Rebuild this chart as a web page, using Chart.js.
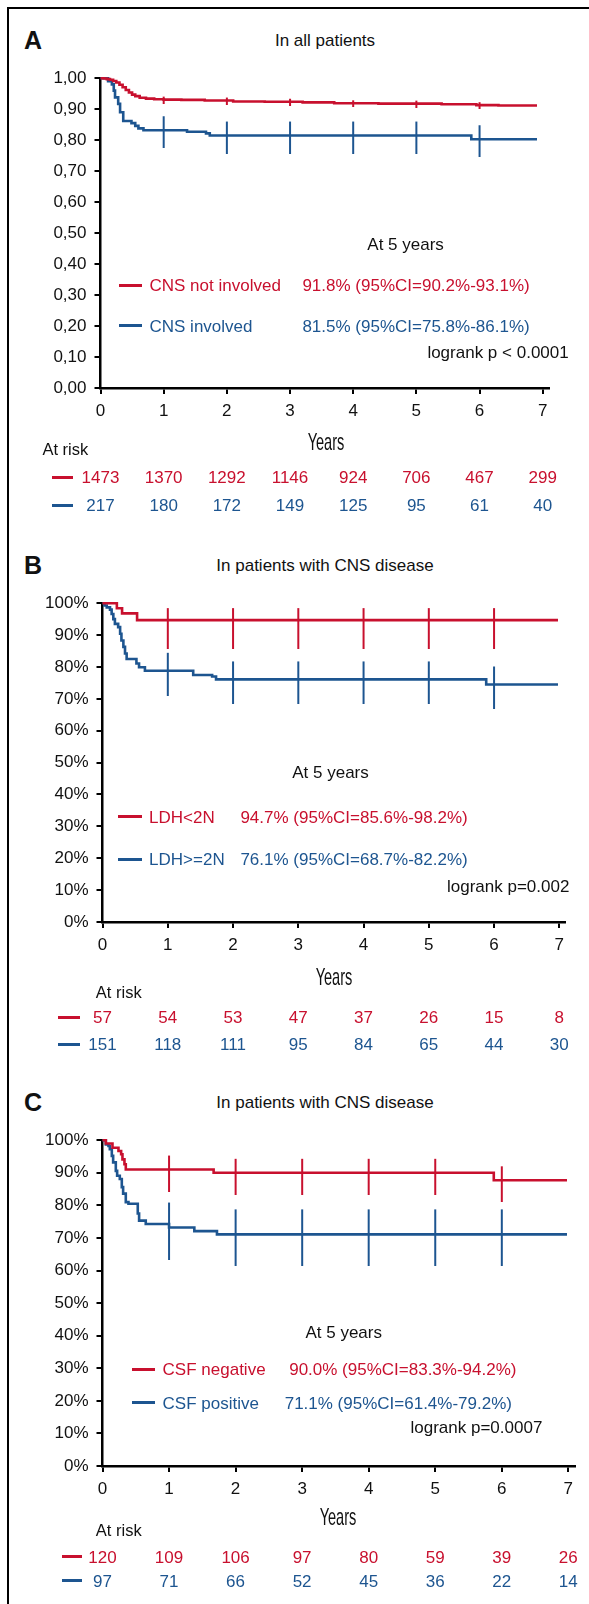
<!DOCTYPE html>
<html>
<head>
<meta charset="utf-8">
<script src="https://cdn.jsdelivr.net/npm/chart.js@4.4.1/dist/chart.umd.min.js"></script>
<style>
html, body { margin: 0; padding: 0; background: #fff; }
#page { position: relative; width: 589px; height: 1604px; overflow: hidden; font-family: "Liberation Sans", Arial, sans-serif; color: #111; }
#frame { position: absolute; left: 7px; top: 7px; width: 700px; height: 1700px; border-left: 2.5px solid #000; border-top: 2.5px solid #000; }
.t { position: absolute; white-space: nowrap; line-height: 1; font-size: 17px; }
canvas { position: absolute; left: 0; }
</style>
</head>
<body>
<div id="page"><div id="frame"></div></div>
<script>
// ---- data ----
var years = [0, 1, 2, 3, 4, 5, 6, 7];
var censorYears = [1, 2, 3, 4, 5, 6];

// A: all patients
var aRedT = [0, 0.05, 0.1, 0.15, 0.2, 0.25, 0.3, 0.35, 0.4, 0.45, 0.5, 0.55, 0.62, 0.72, 0.85, 1.0, 1.28, 1.65, 2.1, 2.6, 3.2, 3.7, 4.4, 5.4, 5.95, 6.3, 6.91];
var aRedS = [1.0, 0.999, 0.997, 0.995, 0.991, 0.986, 0.979, 0.971, 0.962, 0.954, 0.947, 0.942, 0.937, 0.934, 0.932, 0.931, 0.930, 0.928, 0.925, 0.924, 0.922, 0.919, 0.918, 0.916, 0.913, 0.912, 0.912];
var aBlueT = [0, 0.12, 0.18, 0.21, 0.23, 0.28, 0.31, 0.36, 0.49, 0.55, 0.6, 0.68, 1.37, 1.67, 1.73, 5.87, 6.91];
var aBlueS = [1.0, 0.99, 0.98, 0.96, 0.938, 0.917, 0.89, 0.862, 0.855, 0.846, 0.838, 0.832, 0.827, 0.822, 0.815, 0.803, 0.803];
var aNames = ['CNS not involved', 'CNS involved'];
var aEst = ['91.8% (95%CI=90.2%-93.1%)', '81.5% (95%CI=75.8%-86.1%)'];
var aRiskRed = [1473, 1370, 1292, 1146, 924, 706, 467, 299];
var aRiskBlue = [217, 180, 172, 149, 125, 95, 61, 40];

// B: CNS disease by LDH
var bRedT = [0, 0.22, 0.30, 0.53, 6.98];
var bRedS = [1.0, 0.984, 0.968, 0.947, 0.947];
var bBlueT = [0, 0.03, 0.065, 0.115, 0.14, 0.166, 0.19, 0.24, 0.27, 0.29, 0.32, 0.345, 0.37, 0.52, 0.56, 0.65, 1.39, 1.68, 1.74, 5.88, 6.98];
var bBlueS = [1.0, 0.993, 0.987, 0.98, 0.966, 0.95, 0.935, 0.925, 0.904, 0.883, 0.863, 0.842, 0.825, 0.811, 0.799, 0.788, 0.775, 0.77, 0.761, 0.745, 0.745];
var bNames = ['LDH<2N', 'LDH>=2N'];
var bEst = ['94.7% (95%CI=85.6%-98.2%)', '76.1% (95%CI=68.7%-82.2%)'];
var bRiskRed = [57, 54, 53, 47, 37, 26, 15, 8];
var bRiskBlue = [151, 118, 111, 95, 84, 65, 44, 30];

// C: CNS disease by CSF
var cRedT = [0, 0.05, 0.15, 0.24, 0.28, 0.30, 0.33, 0.35, 1.67, 5.88, 6.98];
var cRedS = [1.0, 0.99, 0.977, 0.967, 0.957, 0.941, 0.926, 0.91, 0.90, 0.877, 0.877];
var cBlueT = [0, 0.05, 0.09, 0.11, 0.14, 0.16, 0.2, 0.22, 0.26, 0.29, 0.31, 0.35, 0.39, 0.53, 0.55, 0.65, 1.0, 1.38, 1.72, 6.98];
var cBlueS = [1.0, 0.987, 0.982, 0.972, 0.952, 0.932, 0.906, 0.891, 0.881, 0.856, 0.836, 0.81, 0.805, 0.775, 0.753, 0.743, 0.732, 0.721, 0.711, 0.711];
var cNames = ['CSF negative', 'CSF positive'];
var cEst = ['90.0% (95%CI=83.3%-94.2%)', '71.1% (95%CI=61.4%-79.2%)'];
var cRiskRed = [120, 109, 106, 97, 80, 59, 39, 26];
var cRiskBlue = [97, 71, 66, 52, 45, 36, 22, 14];

var RED = '#c8102e';
var BLUE = '#1d5590';
var FONT = '"Liberation Sans", Arial, sans-serif';
var page = document.getElementById('page');

function text(str, x, y, opt) {
  opt = opt || {};
  var d = document.createElement('div');
  d.className = 't';
  d.textContent = str;
  d.style.left = x + 'px';
  d.style.top = y + 'px';
  if (opt.color) d.style.color = opt.color;
  if (opt.size) d.style.fontSize = opt.size + 'px';
  if (opt.bold) d.style.fontWeight = 'bold';
  if (opt.family) d.style.fontFamily = opt.family;
  page.appendChild(d);
  var sx = opt.width ? opt.width / d.offsetWidth : 1;
  var tx = opt.align === 'center' ? '-50%' : '0';
  d.style.transform = 'translate(' + tx + ',-50%)' + (sx !== 1 ? ' scaleX(' + sx + ')' : '');
  return d;
}

function dash(x1, x2, y, color) {
  var d = document.createElement('div');
  d.style.cssText = 'position:absolute;height:3px;left:' + x1 + 'px;width:' + (x2 - x1) + 'px;top:' + (y - 1.5) + 'px;background:' + color;
  page.appendChild(d);
}

// survival value of a step curve at time t
function valueAt(T, S, t) {
  var v = S[0];
  for (var i = 0; i < T.length; i++) if (T[i] <= t) v = S[i];
  return v;
}

// censor mark drawn as a point image: a vertical bar, up px above and down px below
function tickImage(color, up, down) {
  var cv = document.createElement('canvas');
  cv.width = 4;
  cv.height = Math.ceil(2 * down);
  var g = cv.getContext('2d');
  g.fillStyle = color;
  g.fillRect(1, down - up, 2, up + down);
  return cv;
}

function panel(p) {
  var c = document.createElement('canvas');
  var h = 14 + (p.yBot - p.yTop) + 45;
  c.width = 589;
  c.height = h;
  c.style.width = '589px';
  c.style.height = h + 'px';
  c.style.top = (p.yTop - 14) + 'px';
  page.appendChild(c);

  var datasets = [];
  p.series.forEach(function (s) {
    datasets.push({
      data: s.t.map(function (t, i) { return { x: t, y: s.s[i] }; }),
      borderColor: s.color, borderWidth: 2.6, stepped: 'before',
      pointRadius: 0, fill: false, clip: false
    });
    datasets.push({
      data: censorYears.map(function (t) { return { x: t, y: valueAt(s.t, s.s, t) }; }),
      showLine: false, pointStyle: tickImage(s.color, s.up, s.down),
      pointRadius: 10, clip: false
    });
  });

  var axisGrid = { drawOnChartArea: false, drawTicks: true, tickLength: 6, color: '#000', lineWidth: 2 };
  var chart = new Chart(c, {
    type: 'line',
    data: { datasets: datasets },
    options: {
      responsive: false, animation: false, devicePixelRatio: 1, events: [],
      layout: { padding: { left: 0, top: 14, right: 589 - p.axisEnd, bottom: 0 } },
      plugins: { legend: { display: false }, tooltip: { enabled: false } },
      scales: {
        x: {
          type: 'linear', min: 0, max: p.xMax,
          afterFit: function (s) { s.height = 45; },
          ticks: { stepSize: 1, includeBounds: false, autoSkip: false, maxRotation: 0, padding: 7.5, color: '#111', font: { family: FONT, size: 17 } },
          grid: axisGrid, border: { color: '#000', width: 2.5 }
        },
        y: {
          type: 'linear', min: 0, max: 1,
          afterFit: function (s) { s.width = p.x0; },
          ticks: { stepSize: 0.1, padding: 8, color: '#111', font: { family: FONT, size: 17 }, callback: p.fmt },
          grid: axisGrid, border: { color: '#000', width: 2.5 }
        }
      }
    }
  });

  // panel letter and title
  text(p.letter, 24, p.titleY, { size: 25, bold: true });
  text(p.title, 325, p.titleY, { align: 'center' });

  // legend block
  text('At 5 years', p.at5[0], p.at5[1], { align: 'center' });
  dash(p.legDash[0], p.legDash[1], p.legY[0], RED);
  dash(p.legDash[0], p.legDash[1], p.legY[1], BLUE);
  text(p.names[0], p.nameX, p.legY[0], { color: RED });
  text(p.names[1], p.nameX, p.legY[1], { color: BLUE });
  text(p.est[0], p.estX[0], p.legY[0], { color: RED });
  text(p.est[1], p.estX[1], p.legY[1], { color: BLUE });
  text(p.logrank, p.logrankPos[0], p.logrankPos[1]);

  // axis title
  text('Years', p.yearsPos[0], p.yearsPos[1], { align: 'center', size: 24, family: '"Liberation Sans Narrow", "Liberation Sans", Arial, sans-serif', width: 37 });

  // numbers at risk, placed under the x scale ticks
  text('At risk', p.atRisk[0], p.atRisk[1], { size: 16.5 });
  dash(p.riskDash[0], p.riskDash[1], p.riskY[0], RED);
  dash(p.riskDash[0], p.riskDash[1], p.riskY[1], BLUE);
  years.forEach(function (t, i) {
    var x = chart.scales.x.getPixelForValue(t);
    text(String(p.riskRed[i]), x, p.riskY[0], { align: 'center', color: RED });
    text(String(p.riskBlue[i]), x, p.riskY[1], { align: 'center', color: BLUE });
  });
}

function fmtComma(v) { return v.toFixed(2).replace('.', ','); }
function fmtPct(v) { return Math.round(v * 100) + '%'; }

panel({
  letter: 'A', title: 'In all patients', titleY: 40,
  x0: 100.5, yTop: 74, yBot: 388, axisEnd: 549, xMax: 7.1, fmt: fmtComma,
  series: [
    { t: aRedT, s: aRedS, color: RED, up: 3, down: 4 },
    { t: aBlueT, s: aBlueS, color: BLUE, up: 14, down: 18 }
  ],
  at5: [405.6, 244], legDash: [119.4, 142], legY: [285, 325.7], nameX: 149.5, estX: [302.4, 302.4],
  names: aNames, est: aEst, logrank: 'logrank p < 0.0001', logrankPos: [427.4, 351.7],
  yearsPos: [325.6, 441.7], atRisk: [42.4, 449], riskDash: [51.5, 72.5], riskY: [477, 505],
  riskRed: aRiskRed, riskBlue: aRiskBlue
});

panel({
  letter: 'B', title: 'In patients with CNS disease', titleY: 565,
  x0: 102.5, yTop: 599, yBot: 922, axisEnd: 565.3, xMax: 7.092, fmt: fmtPct,
  series: [
    { t: bRedT, s: bRedS, color: RED, up: 12, down: 29 },
    { t: bBlueT, s: bBlueS, color: BLUE, up: 18, down: 25 }
  ],
  at5: [330.5, 771.7], legDash: [118.3, 142], legY: [816.7, 859], nameX: 149.1, estX: [240.4, 240.4],
  names: bNames, est: bEst, logrank: 'logrank p=0.002', logrankPos: [447, 885.7],
  yearsPos: [334.3, 976.7], atRisk: [95.8, 991.7], riskDash: [58.2, 80], riskY: [1017.3, 1044],
  riskRed: bRiskRed, riskBlue: bRiskBlue
});

panel({
  letter: 'C', title: 'In patients with CNS disease', titleY: 1101.7,
  x0: 102.5, yTop: 1136, yBot: 1466, axisEnd: 574.7, xMax: 7.096, fmt: fmtPct,
  series: [
    { t: cRedT, s: cRedS, color: RED, up: 14, down: 22 },
    { t: cBlueT, s: cBlueS, color: BLUE, up: 25, down: 32 }
  ],
  at5: [343.7, 1331.7], legDash: [131.5, 155.1], legY: [1369.3, 1402.7], nameX: 162.6, estX: [289.2, 284.7],
  names: cNames, est: cEst, logrank: 'logrank p=0.0007', logrankPos: [410.5, 1426.7],
  yearsPos: [338, 1516.7], atRisk: [95.8, 1530], riskDash: [62, 81.9], riskY: [1556.7, 1580.7],
  riskRed: cRiskRed, riskBlue: cRiskBlue
});
</script>
</body>
</html>
